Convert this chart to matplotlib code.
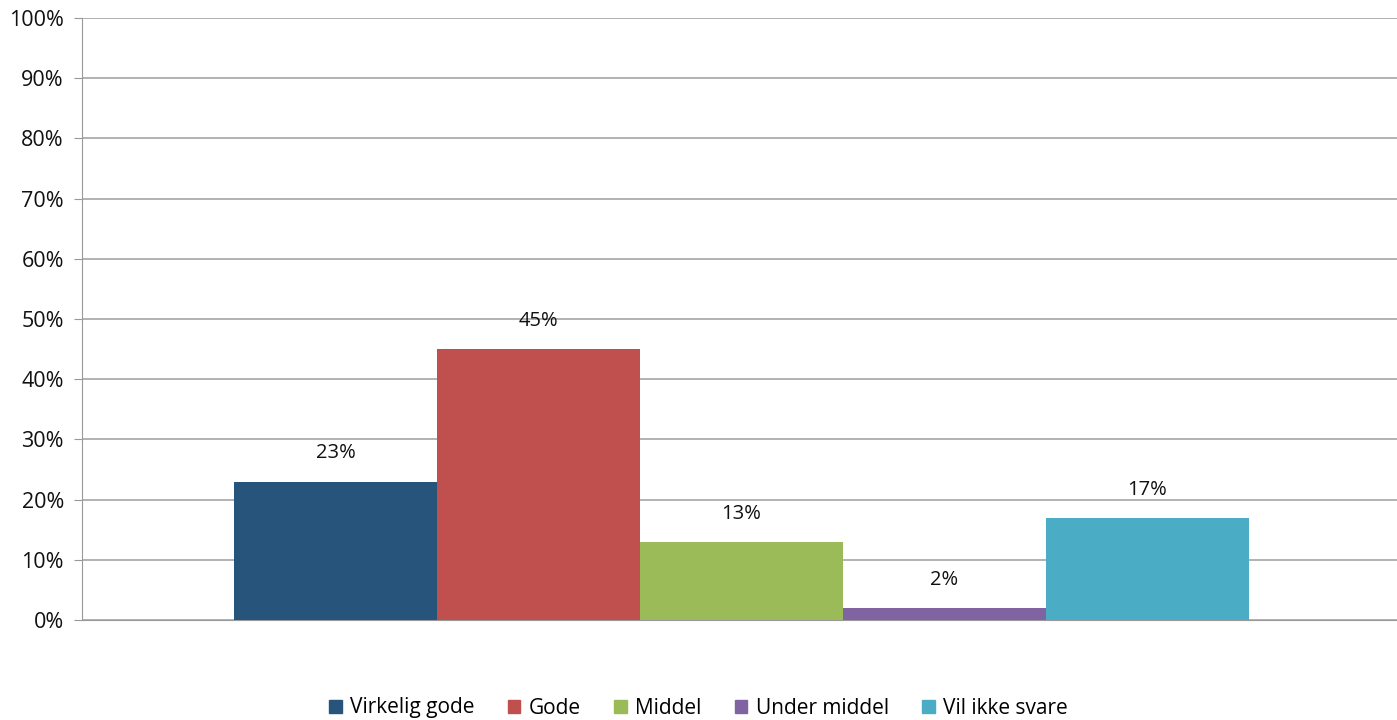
import matplotlib
matplotlib.use("Agg")
import matplotlib.pyplot as plt
from matplotlib.ticker import FuncFormatter

categories = ["Virkelig gode", "Gode", "Middel", "Under middel", "Vil ikke svare"]
values = [23, 45, 13, 2, 17]
colors = ["#26547A", "#C0504D", "#9BBB59", "#8064A2", "#4BACC6"]
yticks = list(range(0, 101, 10))

plt.rcParams['font.family'] = ['Open Sans', 'DejaVu Sans']

fig = plt.figure(figsize=(13.97, 7.2), dpi=100)
ax = fig.add_axes([82/1397, 100/720, 1315/1397, 602/720])

x = list(range(len(categories)))
bars = ax.bar(x, values, width=1.0, color=colors, label=categories, zorder=3)
for xi, v in zip(x, values):
    ax.text(xi, v + 3, f"{v}%", ha="center", va="bottom", fontsize=14.5, color="#111111")

ax.set_xlim(-1.249, 5.229)
ax.set_ylim(0, 100)
ax.set_yticks(yticks)
ax.yaxis.set_major_formatter(FuncFormatter(lambda v, p: f"{int(v)}%"))
ax.tick_params(axis="y", labelsize=15.5, length=6, color="#999999", labelcolor="#111111", pad=7)
ax.set_xticks([])
ax.grid(axis="y", color="#A6A6A6", linewidth=1.2, zorder=0)
for s in ["top", "right"]:
    ax.spines[s].set_visible(False)
ax.spines["left"].set_color("#999999")
ax.spines["bottom"].set_color("#999999")

handles = [plt.Rectangle((0, 0), 1, 1, color=c) for c in colors]
fig.legend(handles, categories, loc="center", bbox_to_anchor=(0.5, 12/720), ncol=5,
           frameon=False, fontsize=15, handlelength=0.6, handleheight=0.6,
           columnspacing=1.6, handletextpad=0.4)

fig.savefig("out.png", dpi=100)
